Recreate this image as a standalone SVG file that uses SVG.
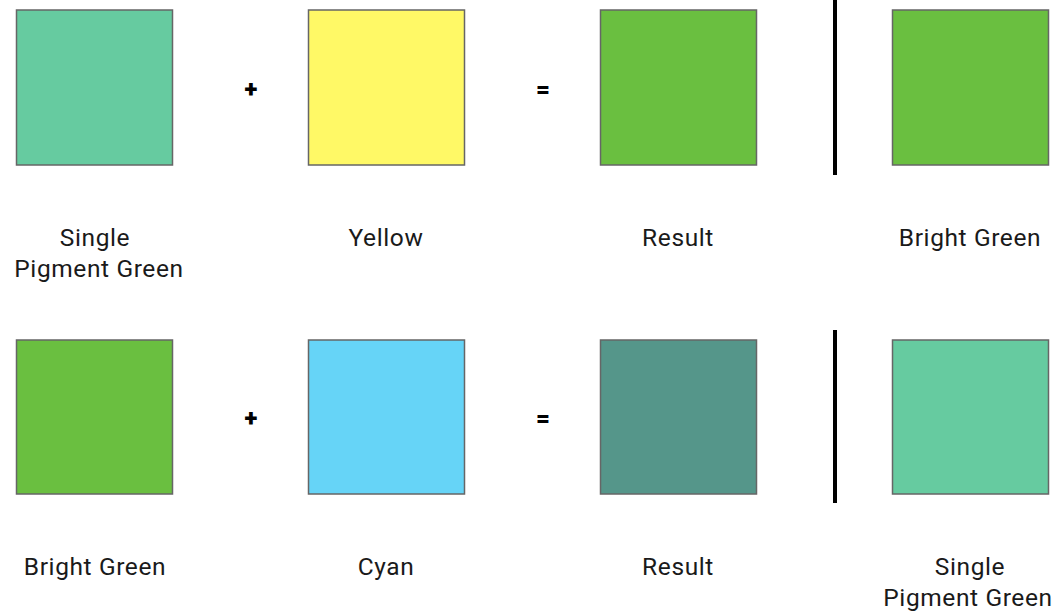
<svg xmlns="http://www.w3.org/2000/svg" width="1057" height="614" viewBox="0 0 1057 614">
<style>
.sw{stroke:#666666;stroke-width:1.5}
.lbl{font-family:Roboto,"Liberation Sans",sans-serif;font-size:24.5px;fill:#1a1a1a;text-anchor:middle;letter-spacing:0.6px}
.op{font-family:Roboto,"Liberation Sans",sans-serif;font-size:24px;font-weight:900;fill:#000;text-anchor:middle;dominant-baseline:central}
.sep{stroke:#000;stroke-width:4}
</style>
<rect width="1057" height="614" fill="#ffffff"/>
<g id="r1-single-green"><rect class="sw" x="16.5" y="10" width="156" height="155" fill="#66CBA0"/>
<text class="lbl" x="95" y="246">Single</text><text class="lbl" x="99" y="277">Pigment Green</text></g>
<g id="r1-plus"><text class="op" x="251" y="89">+</text></g>
<g id="r1-yellow"><rect class="sw" x="308.5" y="10" width="156" height="155" fill="#FFF966"/>
<text class="lbl" x="386" y="246">Yellow</text></g>
<g id="r1-eq"><text class="op" x="543" y="89">=</text></g>
<g id="r1-result"><rect class="sw" x="600.5" y="10" width="156" height="155" fill="#6ABF40"/>
<text class="lbl" x="678" y="246">Result</text></g>
<g id="r1-bright"><rect class="sw" x="892.5" y="10" width="156" height="155" fill="#6ABF40"/>
<text class="lbl" x="970" y="246">Bright Green</text></g>
<g id="r2-bright"><rect class="sw" x="16.5" y="340" width="156" height="154" fill="#6ABF40"/>
<text class="lbl" x="95" y="575">Bright Green</text></g>
<g id="r2-plus"><text class="op" x="251" y="418">+</text></g>
<g id="r2-cyan"><rect class="sw" x="308.5" y="340" width="156" height="154" fill="#66D4F7"/>
<text class="lbl" x="386" y="575">Cyan</text></g>
<g id="r2-eq"><text class="op" x="543" y="418">=</text></g>
<g id="r2-result"><rect class="sw" x="600.5" y="340" width="156" height="154" fill="#55968A"/>
<text class="lbl" x="678" y="575">Result</text></g>
<g id="r2-single"><rect class="sw" x="892.5" y="340" width="156" height="154" fill="#66CBA0"/>
<text class="lbl" x="970" y="575">Single</text><text class="lbl" x="968" y="606">Pigment Green</text></g>
<g id="connectors">
<line class="sep" x1="835" y1="0" x2="835" y2="175"/>
<line class="sep" x1="835" y1="330" x2="835" y2="503"/>
</g>
</svg>
